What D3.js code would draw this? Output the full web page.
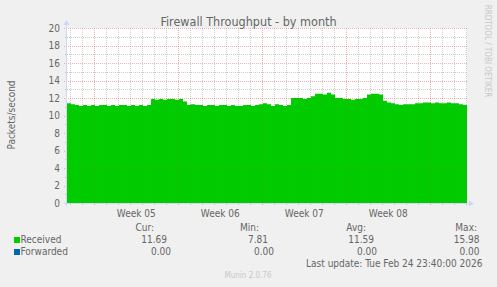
<!DOCTYPE html>
<html>
<head>
<meta charset="utf-8">
<script src="https://cdn.jsdelivr.net/npm/d3@7"></script>
<style>
  body { margin: 0; background: #f0f0f0; }
  svg { display: block; }
  text { font-family: "DejaVu Sans Condensed", "DejaVu Sans", sans-serif; fill: #666; }
</style>
</head>
<body>
<svg id="chart" width="497" height="287"></svg>
<script>
// data, one value every 8 hours
var startTime = new Date(Date.UTC(2026, 0, 23, 17, 24));
var stepHours = 8;
var received = [
  11.4, 11.3, 11.2, 11.1, 11.2, 11.1, 11.2, 11.1, 11.2, 11.2,
  11.1, 11.2, 11.1, 11.2, 11.2, 11.1, 11.2, 11.1, 11.2, 11.1,
  11.2, 11.9, 11.8, 11.9, 11.8, 11.9, 11.9, 11.8, 11.9, 11.6,
  11.2, 11.3, 11.2, 11.2, 11.1, 11.2, 11.2, 11.1, 11.2, 11.2,
  11.1, 11.2, 11.1, 11.1, 11.2, 11.2, 11.1, 11.2, 11.3, 11.4,
  11.3, 11.1, 11.3, 11.2, 11.1, 11.2, 12.0, 12.0, 12.0, 11.9,
  12.0, 12.2, 12.5, 12.5, 12.4, 12.6, 12.4, 12.0, 12.0, 11.9,
  11.9, 11.8, 11.9, 11.9, 12.0, 12.4, 12.5, 12.5, 12.4, 11.7,
  11.5, 11.4, 11.3, 11.2, 11.3, 11.3, 11.3, 11.4, 11.4, 11.5,
  11.5, 11.4, 11.5, 11.4, 11.4, 11.5, 11.4, 11.4, 11.3, 11.2,
  11.5
];
var seriesNames = ["Received", "Forwarded"];
var seriesColors = ["#00cc00", "#0066b3"];
var curValues = ["11.69", "0.00"];
var minValues = ["7.81", "0.00"];
var avgValues = ["11.59", "0.00"];
var maxValues = ["15.98", "0.00"];
var yTicks = [0, 2, 4, 6, 8, 10, 12, 14, 16, 18, 20];

var plotLeft = 67, plotTop = 28, plotW = 400, plotH = 175;
var endTime = new Date(startTime.getTime() + 800 * 3600 * 1000);

var svg = d3.select("#chart");

var x = d3.scaleUtc()
    .domain([startTime, endTime])
    .range([plotLeft, plotLeft + plotW]);

var y = d3.scaleLinear()
    .domain([0, 20])
    .range([plotTop + plotH, plotTop]);

var points = received.map(function (v, i) {
  return { t: new Date(startTime.getTime() + i * stepHours * 3600 * 1000), v: v };
});

var minorY = d3.range(1, 20, 2);
var days = d3.utcDay.range(startTime, endTime).filter(function (d) { return d.getUTCDay() !== 1; });
var mondays = d3.utcMonday.range(startTime, endTime);

// canvas
svg.append("rect")
  .attr("x", plotLeft).attr("y", plotTop)
  .attr("width", plotW).attr("height", plotH)
  .attr("fill", "#ffffff");

function drawGrid(g, minorCol, majorCol) {
  g.selectAll(".vday")
    .data(days)
    .enter().append("line")
    .attr("x1", function (d) { return Math.round(x(d)) + 0.5; })
    .attr("x2", function (d) { return Math.round(x(d)) + 0.5; })
    .attr("y1", plotTop)
    .attr("y2", plotTop + plotH + 2)
    .attr("stroke", minorCol)
    .attr("stroke-dasharray", "1,1");

  g.selectAll(".hminor")
    .data(minorY)
    .enter().append("line")
    .attr("x1", plotLeft - 2)
    .attr("x2", plotLeft + plotW)
    .attr("y1", function (d) { return Math.round(y(d)) + 0.5; })
    .attr("y2", function (d) { return Math.round(y(d)) + 0.5; })
    .attr("stroke", minorCol)
    .attr("stroke-dasharray", "1,1");

  g.selectAll(".vweek")
    .data(mondays)
    .enter().append("line")
    .attr("x1", function (d) { return Math.round(x(d)) + 0.5; })
    .attr("x2", function (d) { return Math.round(x(d)) + 0.5; })
    .attr("y1", plotTop)
    .attr("y2", plotTop + plotH + 3)
    .attr("stroke", majorCol)
    .attr("stroke-dasharray", "1,1");

  g.selectAll(".hmajor")
    .data(yTicks.filter(function (d) { return d > 0; }))
    .enter().append("line")
    .attr("x1", plotLeft - 3)
    .attr("x2", plotLeft + plotW)
    .attr("y1", function (d) { return Math.round(y(d)) + 0.5; })
    .attr("y2", function (d) { return Math.round(y(d)) + 0.5; })
    .attr("stroke", majorCol)
    .attr("stroke-dasharray", "1,1");
}

// grid under the area
drawGrid(svg.append("g"), "rgba(150,150,150,0.35)", "rgba(230,90,90,0.35)");

// received area
var area = d3.area()
  .curve(d3.curveStepAfter)
  .x(function (d) { return x(d.t); })
  .y0(y(0))
  .y1(function (d) { return y(d.v); });

svg.append("path")
  .datum(points)
  .attr("d", area)
  .attr("fill", seriesColors[0]);

// faint grid showing through the area
drawGrid(svg.append("g"), "rgba(100,100,100,0.1)", "rgba(200,60,60,0.14)");

// axes
var axisColor = "#cfd6f8";
svg.append("line")
  .attr("x1", plotLeft - 3).attr("x2", plotLeft + plotW + 2)
  .attr("y1", y(0) + 0.5).attr("y2", y(0) + 0.5)
  .attr("stroke", axisColor);
svg.append("line")
  .attr("x1", plotLeft - 0.5).attr("x2", plotLeft - 0.5)
  .attr("y1", y(0) + 3).attr("y2", plotTop - 4)
  .attr("stroke", axisColor);
svg.append("path")
  .attr("d", "M" + (plotLeft + plotW + 2) + "," + (y(0) - 2.5) + "l5,3l-5,3z")
  .attr("fill", axisColor);
svg.append("path")
  .attr("d", "M" + (plotLeft - 3.5) + "," + (plotTop - 3) + "l3,-5l3,5z")
  .attr("fill", axisColor);

// y tick labels
svg.selectAll(".ylab")
  .data(yTicks)
  .enter().append("text")
  .attr("x", plotLeft - 7)
  .attr("y", function (d) { return y(d) + 3.7; })
  .attr("text-anchor", "end")
  .style("font-size", "10px")
  .text(function (d) { return d; });

// week labels centred in each week
var weekFmt = d3.utcFormat("Week %V");
svg.selectAll(".xlab")
  .data(mondays.filter(function (d) { return d.getTime() + 3.5 * 86400000 < endTime.getTime(); }))
  .enter().append("text")
  .attr("x", function (d) { return x(new Date(d.getTime() + 3.5 * 86400000)); })
  .attr("y", 216.5)
  .attr("text-anchor", "middle")
  .style("font-size", "10px")
  .text(function (d) { return weekFmt(d); });

// title and side texts
svg.append("text")
  .attr("x", 248.5).attr("y", 25.5)
  .attr("text-anchor", "middle")
  .style("font-size", "12.5px")
  .text("Firewall Throughput - by month");

svg.append("text")
  .attr("transform", "translate(14.5,115) rotate(-90)")
  .attr("text-anchor", "middle")
  .style("font-size", "10px")
  .text("Packets/second");

svg.append("text")
  .attr("transform", "translate(484.5,51) rotate(90)")
  .attr("text-anchor", "middle")
  .style("font-size", "8px")
  .style("fill", "#c8c8c8")
  .text("RRDTOOL / TOBI OETIKER");

// legend
var headers = [["Cur:", 154], ["Min:", 259], ["Avg:", 366], ["Max:", 477]];
svg.selectAll(".hdr")
  .data(headers)
  .enter().append("text")
  .attr("x", function (d) { return d[1]; })
  .attr("y", 230.5)
  .attr("text-anchor", "end")
  .style("font-size", "10px")
  .text(function (d) { return d[0]; });

var rowY = [243, 255];
seriesNames.forEach(function (name, i) {
  svg.append("rect")
    .attr("x", 14).attr("y", rowY[i] - 6)
    .attr("width", 6).attr("height", 6)
    .attr("fill", seriesColors[i]);
  svg.append("text")
    .attr("x", 20.5).attr("y", rowY[i])
    .style("font-size", "10px")
    .text(name);
  var cols = [[curValues[i], i ? 171 : 167], [minValues[i], i ? 274 : 268],
              [avgValues[i], i ? 377 : 374], [maxValues[i], 479.5]];
  cols.forEach(function (c) {
    svg.append("text")
      .attr("x", c[1]).attr("y", rowY[i])
      .attr("text-anchor", "end")
      .style("font-size", "10px")
      .text(c[0]);
  });
});

svg.append("text")
  .attr("x", 482.5).attr("y", 266.5)
  .attr("text-anchor", "end")
  .style("font-size", "10px")
  .text("Last update: Tue Feb 24 23:40:00 2026");

svg.append("text")
  .attr("x", 248).attr("y", 278)
  .attr("text-anchor", "middle")
  .style("font-size", "8px")
  .style("fill", "#c8c8c8")
  .text("Munin 2.0.76");
</script>
</body>
</html>
